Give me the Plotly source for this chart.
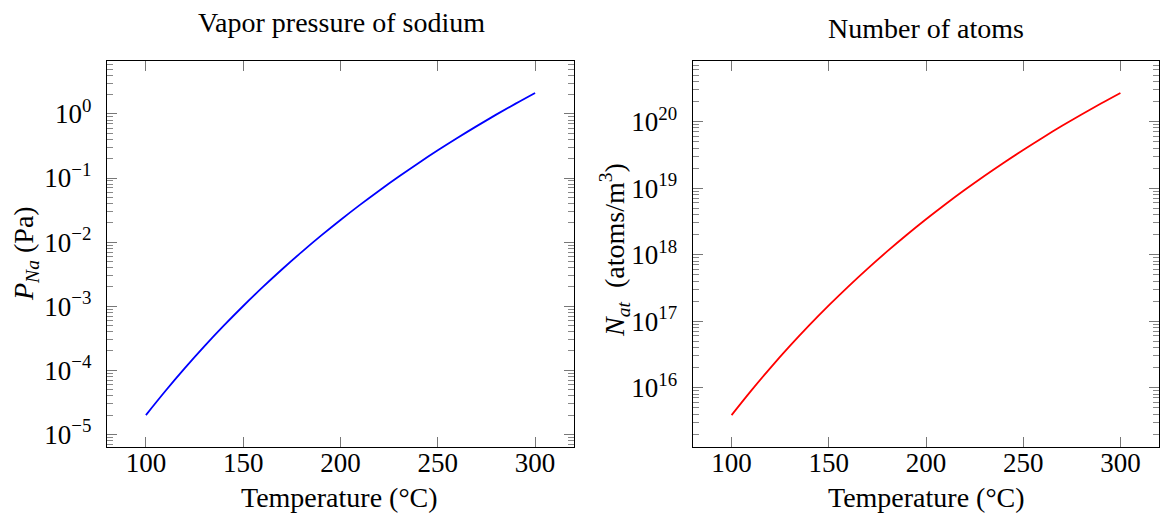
import numpy as np
import plotly.graph_objects as go
from plotly.subplots import make_subplots

# Temperature grid (°C)
temperature_c = [100, 110, 120, 130, 140, 150, 160, 170, 180, 190, 200,
                 210, 220, 230, 240, 250, 260, 270, 280, 290, 300]

# Sodium vapor pressure (Pa)
pressure_pa = [1.996e-5, 4.745e-5, 1.079e-4, 2.358e-4, 4.958e-4, 1.0065e-3,
               1.978e-3, 3.770e-3, 6.984e-3, 1.260e-2, 2.216e-2, 3.810e-2,
               6.404e-2, 0.1055, 0.1704, 0.2703, 0.4213, 0.6459, 0.9755,
               1.4512, 2.1302]

# Atom number density (atoms/m^3)
atoms_m3 = [3.875e15, 8.970e15, 1.989e16, 4.236e16, 8.692e16, 1.723e17,
            3.308e17, 6.162e17, 1.116e18, 1.970e18, 3.392e18, 5.712e18,
            9.406e18, 1.518e19, 2.405e19, 3.742e19, 5.723e19, 8.613e19,
            1.277e20, 1.866e20, 2.692e20]

p_exponents = [-5, -4, -3, -2, -1, 0]
n_exponents = [16, 17, 18, 19, 20]

W, H = 1160, 521
FONT = "'Liberation Serif', 'Times New Roman', Times, 'DejaVu Serif', serif"
FS = 27


def sup_label(e):
    s = str(e).replace("-", "\u2212")
    return f"10<sup>{s}</sup>"


def padded_log_range(vals, frac=0.1):
    lo, hi = np.log10(min(vals)), np.log10(max(vals))
    pad = (hi - lo) * frac
    return [lo - pad, hi + pad]


def minor_vals(rng):
    out = []
    for d in range(int(np.floor(rng[0])) - 1, int(np.ceil(rng[1])) + 1):
        for m in range(2, 10):
            v = m * 10.0 ** d
            if rng[0] <= np.log10(v) <= rng[1]:
                out.append(v)
    return out


fig = make_subplots(rows=1, cols=2)

fig.add_trace(go.Scatter(x=temperature_c, y=pressure_pa, mode="lines",
                         line=dict(color="#0000ff", width=1.8, shape="spline"),
                         showlegend=False), row=1, col=1)
fig.add_trace(go.Scatter(x=temperature_c, y=atoms_m3, mode="lines",
                         line=dict(color="#ff0000", width=1.8, shape="spline"),
                         showlegend=False), row=1, col=2)

x_range = [80, 320]
x_common = dict(
    type="linear", range=x_range, tickmode="array",
    tickvals=[100, 150, 200, 250, 300],
    ticks="inside", ticklen=10, tickwidth=1, tickcolor="#777",
    showline=True, linecolor="black", linewidth=1.3, mirror="ticks",
    showgrid=False, zeroline=False,
    tickfont=dict(family=FONT, size=FS, color="black"),
    ticklabelstandoff=-9, automargin=False,
)
y_common = dict(
    type="log", ticks="inside", ticklen=10, tickwidth=1, tickcolor="#777",
    showline=True, linecolor="black", linewidth=1.3, mirror="ticks",
    showgrid=False, zeroline=False,
    tickfont=dict(family=FONT, size=FS, color="black"),
    ticklabelstandoff=9, automargin=False,
)

p_range = padded_log_range(pressure_pa)
n_range = padded_log_range(atoms_m3)

y_top = 1 - 60.7 / H
y_bot = 1 - 447.3 / H

fig.update_xaxes(**x_common, domain=[107 / W, 574 / W], row=1, col=1)
fig.update_xaxes(**x_common, domain=[692.7 / W, 1159.3 / W], row=1, col=2)

fig.update_yaxes(**y_common, domain=[y_bot, y_top], range=p_range,
                 tickmode="array", tickvals=[10.0 ** e for e in p_exponents],
                 ticktext=[sup_label(e) for e in p_exponents],
                 minor=dict(tickmode="array", tickvals=minor_vals(p_range),
                            ticks="inside", ticklen=6, tickcolor="#888",
                            tickwidth=1, showgrid=False),
                 row=1, col=1)
fig.update_yaxes(**y_common, domain=[y_bot, y_top], range=n_range,
                 tickmode="array", tickvals=[10.0 ** e for e in n_exponents],
                 ticktext=[sup_label(e) for e in n_exponents],
                 minor=dict(tickmode="array", tickvals=minor_vals(n_range),
                            ticks="inside", ticklen=6, tickcolor="#888",
                            tickwidth=1, showgrid=False),
                 row=1, col=2)

txt = dict(family=FONT, size=FS + 1, color="black")
annotations = [
    dict(text="Vapor pressure of sodium", x=341 / W, y=1 - 22.5 / H),
    dict(text="Number of atoms", x=925.5 / W, y=1 - 28 / H),
    dict(text="Temperature (°C)", x=340 / W, y=1 - 497 / H),
    dict(text="Temperature (°C)", x=926 / W, y=1 - 497 / H),
    dict(text="<i>P</i><sub><i>Na</i></sub> (Pa)", x=25 / W, y=1 - 254 / H,
         textangle=-90),
    dict(text="<i>N</i><sub><i>at</i></sub>  (atoms/m<sup>3</sup>)",
         x=614 / W, y=1 - 250 / H, textangle=-90),
]
for a in annotations:
    fig.add_annotation(xref="paper", yref="paper", showarrow=False,
                       xanchor="center", yanchor="middle", font=txt, **a)

fig.update_layout(
    width=W, height=H, template="none",
    margin=dict(l=0, r=0, t=0, b=0),
    paper_bgcolor="white", plot_bgcolor="white",
    font=dict(family=FONT, size=FS, color="black"),
    showlegend=False,
)

fig.write_html("out.html")
